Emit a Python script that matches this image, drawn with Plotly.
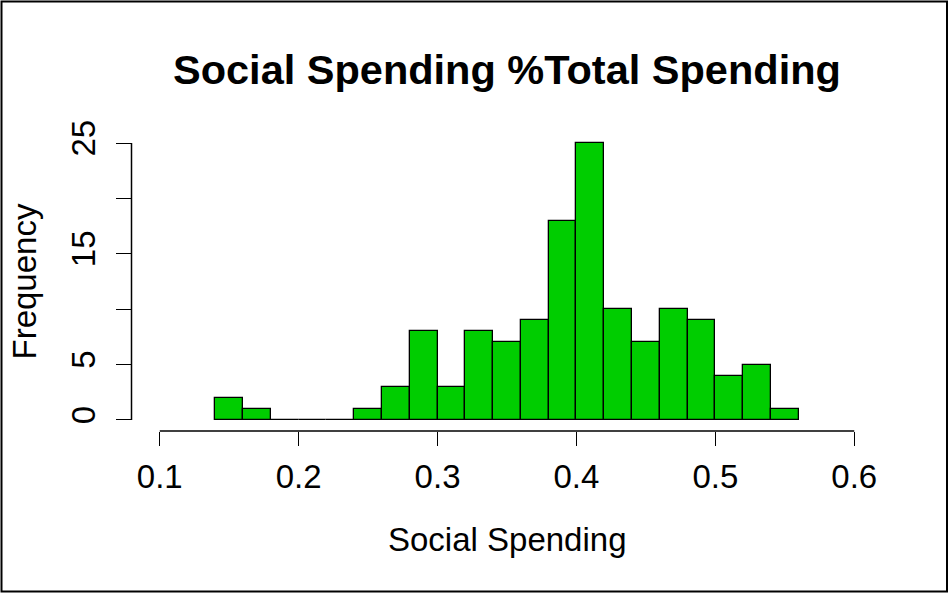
import plotly.graph_objects as go

# Histogram data (bin edges and counts)
breaks = [0.14, 0.16, 0.18, 0.20, 0.22, 0.24, 0.26, 0.28, 0.30, 0.32, 0.34,
          0.36, 0.38, 0.40, 0.42, 0.44, 0.46, 0.48, 0.50, 0.52, 0.54, 0.56]
counts = [2, 1, 0, 0, 0, 1, 3, 8, 3, 8, 7, 9, 18, 25, 10, 7, 10, 9, 4, 5, 1]

x_ticks = [0.1, 0.2, 0.3, 0.4, 0.5, 0.6]
x_ticktext = ["0.1", "0.2", "0.3", "0.4", "0.5", "0.6"]
y_ticks = [0, 5, 10, 15, 20, 25]
y_ticktext = ["0", "5", "", "15", "", "25"]

title_text = "Social Spending %Total Spending"
x_title = "Social Spending"
y_title = "Frequency"

centers = [(breaks[i] + breaks[i + 1]) / 2 for i in range(len(counts))]
widths = [breaks[i + 1] - breaks[i] for i in range(len(counts))]

FONT = "Liberation Sans, Arial, Helvetica, sans-serif"

XR = [0.08, 0.62]
YR = [-1, 26]

fig = go.Figure()
fig.add_trace(go.Bar(
    x=centers, y=counts, width=widths,
    marker=dict(color="#00CD00", line=dict(color="black", width=1.3)),
    hoverinfo="x+y",
))

W, H = 949, 593
L, R, T, B = 132, 67, 132, 162
pw, ph = W - L - R, H - T - B

def px_x(x):
    return (x - L) / pw

def px_y(y):
    return (H - B - y) / ph

def dx(v):
    return (v - XR[0]) / (XR[1] - XR[0])

def dy(v):
    return (v - YR[0]) / (YR[1] - YR[0])

fig.update_layout(
    width=W, height=H,
    margin=dict(l=L, r=R, t=T, b=B, pad=0),
    paper_bgcolor="white", plot_bgcolor="white",
    showlegend=False, bargap=0,
    font=dict(family=FONT, size=33, color="black"),
    xaxis=dict(
        range=XR, tickvals=x_ticks, ticktext=x_ticktext,
        ticks="outside", ticklen=14, tickwidth=1.2, tickcolor="black",
        showline=False, showgrid=False, zeroline=False,
        tickfont=dict(family=FONT, size=33, color="black"),
        ticklabelstandoff=2,
    ),
    yaxis=dict(
        range=YR, tickvals=y_ticks, ticktext=y_ticktext,
        ticks="outside", ticklen=15, tickwidth=1.2, tickcolor="black",
        showline=False, showgrid=False, zeroline=False, tickangle=-90,
        tickfont=dict(family=FONT, size=33, color="black"),
        ticklabelstandoff=8,
    ),
    shapes=[
        # x axis line (0.1 .. 0.6)
        dict(type="line", xref="paper", yref="paper",
             x0=dx(x_ticks[0]), x1=dx(x_ticks[-1]), y0=px_y(431), y1=px_y(431),
             line=dict(color="black", width=1.3)),
        # y axis line (0 .. 25)
        dict(type="line", xref="paper", yref="paper",
             x0=px_x(131.5), x1=px_x(131.5),
             y0=dy(y_ticks[0]), y1=dy(y_ticks[-1]),
             line=dict(color="black", width=1.5)),
        # outer box
        dict(type="rect", xref="paper", yref="paper",
             x0=px_x(1.5), x1=px_x(947), y0=px_y(591.5), y1=px_y(1.5),
             line=dict(color="black", width=2), fillcolor="rgba(0,0,0,0)"),
    ],
    annotations=[
        dict(text="<b>" + title_text + "</b>", xref="paper", yref="paper",
             x=0.5, y=px_y(70), xanchor="center", yanchor="middle",
             showarrow=False, font=dict(family=FONT, size=41.5, color="black")),
        dict(text=x_title, xref="paper", yref="paper",
             x=0.5, y=px_y(539), xanchor="center", yanchor="middle",
             showarrow=False, font=dict(family=FONT, size=33, color="black")),
        dict(text=y_title, xref="paper", yref="paper",
             x=px_x(24), y=0.5, xanchor="center", yanchor="middle", textangle=-90,
             showarrow=False, font=dict(family=FONT, size=33, color="black")),
    ],
)

fig.write_html("out.html")
